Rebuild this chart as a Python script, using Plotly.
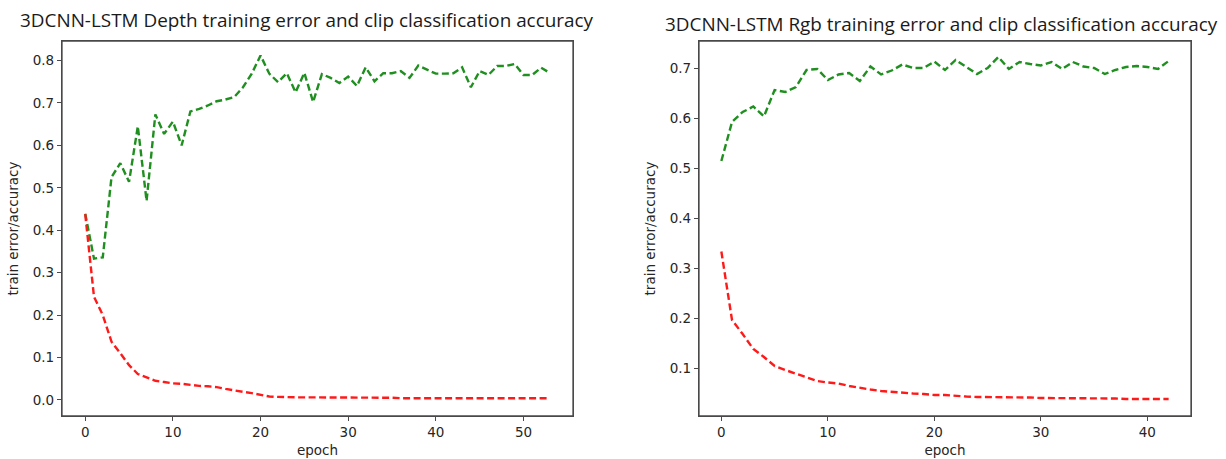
import plotly.graph_objects as go

# Depth model (54 epochs)
depth_epochs = list(range(54))
depth_acc = [0.439, 0.333, 0.336, 0.525, 0.558, 0.514, 0.645, 0.469, 0.673, 0.627,
             0.656, 0.600, 0.680, 0.686, 0.694, 0.704, 0.708, 0.714, 0.737, 0.769,
             0.812, 0.769, 0.749, 0.770, 0.725, 0.771, 0.702, 0.768, 0.759, 0.747,
             0.762, 0.740, 0.784, 0.751, 0.770, 0.770, 0.775, 0.759, 0.788, 0.778,
             0.769, 0.769, 0.770, 0.784, 0.737, 0.775, 0.766, 0.787, 0.787, 0.792,
             0.766, 0.766, 0.783, 0.771]
depth_err = [0.438, 0.243, 0.200, 0.137, 0.110, 0.082, 0.061, 0.053, 0.045, 0.042,
             0.039, 0.038, 0.035, 0.033, 0.032, 0.030, 0.026, 0.022, 0.019, 0.016,
             0.012, 0.008, 0.007, 0.006, 0.006, 0.006, 0.006, 0.006, 0.005, 0.005,
             0.005, 0.005, 0.005, 0.005, 0.005, 0.005, 0.004, 0.004, 0.004, 0.004,
             0.004, 0.004, 0.004, 0.004, 0.004, 0.004, 0.004, 0.004, 0.004, 0.004,
             0.004, 0.004, 0.004, 0.004]

# Rgb model (43 epochs)
rgb_epochs = list(range(43))
rgb_acc = [0.515, 0.593, 0.613, 0.624, 0.604, 0.657, 0.653, 0.663, 0.697, 0.699,
           0.677, 0.688, 0.691, 0.675, 0.704, 0.688, 0.696, 0.708, 0.701, 0.701,
           0.714, 0.697, 0.717, 0.703, 0.689, 0.701, 0.723, 0.699, 0.713, 0.709,
           0.706, 0.713, 0.699, 0.713, 0.704, 0.701, 0.689, 0.697, 0.703, 0.705,
           0.703, 0.699, 0.715]
rgb_err = [0.334, 0.197, 0.169, 0.139, 0.123, 0.105, 0.097, 0.090, 0.083, 0.075,
           0.072, 0.070, 0.065, 0.061, 0.058, 0.055, 0.053, 0.051, 0.050, 0.049,
           0.047, 0.047, 0.045, 0.044, 0.043, 0.043, 0.043, 0.042, 0.042, 0.042,
           0.041, 0.041, 0.041, 0.040, 0.040, 0.040, 0.040, 0.040, 0.039, 0.039,
           0.039, 0.039, 0.039]

depth_title = "3DCNN-LSTM Depth training error and clip classification accuracy"
rgb_title = "3DCNN-LSTM Rgb training error and clip classification accuracy"

W, H = 1226, 459
GREEN = "#1f8f1f"
RED = "#ff1a1a"
DASH = "7px,3.5px"
TXT = "#262626"
AX = "#4a4a4a"
tick_font = dict(family="DejaVu Sans", size=13.5, color=TXT)


def px_x(a, b):
    return [a / W, b / W]


def px_y(top, bottom):
    return [(H - bottom) / H, (H - top) / H]


fig = go.Figure()
fig.add_trace(go.Scatter(x=depth_epochs, y=depth_acc, mode="lines", xaxis="x", yaxis="y",
                         line=dict(color=GREEN, width=2.4, dash=DASH), showlegend=False))
fig.add_trace(go.Scatter(x=depth_epochs, y=depth_err, mode="lines", xaxis="x", yaxis="y",
                         line=dict(color=RED, width=2.4, dash=DASH), showlegend=False))
fig.add_trace(go.Scatter(x=rgb_epochs, y=rgb_acc, mode="lines", xaxis="x2", yaxis="y2",
                         line=dict(color=GREEN, width=2.4, dash=DASH), showlegend=False))
fig.add_trace(go.Scatter(x=rgb_epochs, y=rgb_err, mode="lines", xaxis="x2", yaxis="y2",
                         line=dict(color=RED, width=2.4, dash=DASH), showlegend=False))

common_x = dict(showline=True, mirror=True, linecolor=AX, linewidth=1.3, ticks="outside",
                ticklen=4, tickcolor=AX, showgrid=False, zeroline=False, tickfont=tick_font,
                title=dict(text="epoch", font=tick_font, standoff=6), automargin=False)
common_y = dict(showline=True, mirror=True, linecolor=AX, linewidth=1.3, ticks="outside",
                ticklen=4, tickcolor=AX, showgrid=False, zeroline=False, tickfont=tick_font,
                title=dict(text="train error/accuracy", font=tick_font, standoff=10),
                automargin=False)

# frame around each panel
frames = []
for xa, ya in (("x", "y"), ("x2", "y2")):
    frames.append(dict(type="rect", xref=xa + " domain", yref=ya + " domain",
                       x0=0, x1=1, y0=0, y1=1, line=dict(color=AX, width=1.3),
                       fillcolor="rgba(0,0,0,0)", layer="above"))

fig.update_layout(
    width=W, height=H,
    margin=dict(l=0, r=0, t=0, b=0),
    paper_bgcolor="white", plot_bgcolor="white",
    xaxis=dict(common_x, domain=px_x(62, 573), range=[-2.65, 55.65],
               tickvals=[0, 10, 20, 30, 40, 50], anchor="y"),
    yaxis=dict(common_y, domain=px_y(41, 416), range=[-0.038, 0.846],
               tickvals=[0.0, 0.1, 0.2, 0.3, 0.4, 0.5, 0.6, 0.7, 0.8],
               ticktext=["0.0", "0.1", "0.2", "0.3", "0.4", "0.5", "0.6", "0.7", "0.8"],
               anchor="x"),
    xaxis2=dict(common_x, domain=px_x(699, 1191), range=[-2.1, 44.1],
                tickvals=[0, 10, 20, 30, 40], anchor="y2"),
    yaxis2=dict(common_y, domain=px_y(41, 416), range=[0.005, 0.755],
                tickvals=[0.1, 0.2, 0.3, 0.4, 0.5, 0.6, 0.7], anchor="x2"),
    shapes=frames,
    annotations=[
        dict(text=depth_title, x=307 / W, y=1 - 20 / H, xref="paper", yref="paper",
             showarrow=False, xanchor="center", yanchor="middle",
             font=dict(family="Open Sans", size=18.9, color="#1a1a1a")),
        dict(text=rgb_title, x=941 / W, y=1 - 24 / H, xref="paper", yref="paper",
             showarrow=False, xanchor="center", yanchor="middle",
             font=dict(family="Open Sans", size=18.9, color="#1a1a1a")),
    ],
)

# page body has a default margin; drop it so the figure sits at the window corner
fig.write_html("out.html", config={"displayModeBar": False},
               post_script="document.body.style.margin='0';")
